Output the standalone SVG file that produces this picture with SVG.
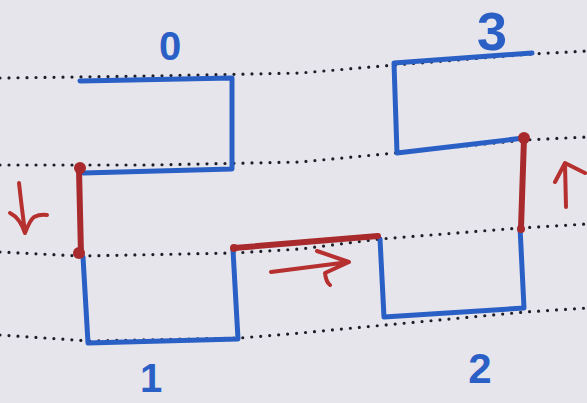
<svg xmlns="http://www.w3.org/2000/svg" width="587" height="403" viewBox="0 0 587 403">
<style>
.bg{fill:#e7e5ec}
.dots{fill:none;stroke:#1e1e28;stroke-width:3.2;stroke-linecap:round;stroke-dasharray:0 9}
.box{fill:none;stroke:#2a60c6;stroke-width:5;stroke-linecap:round;stroke-linejoin:round}
.lbl{fill:#2a60c6;font-family:"Liberation Sans",Arial,sans-serif;font-weight:bold;text-anchor:middle}
.red{fill:none;stroke:#a82a2c;stroke-width:6;stroke-linecap:round;stroke-linejoin:round}
.arw{fill:none;stroke:#b5302f;stroke-width:4;stroke-linecap:round;stroke-linejoin:round}
.blob{fill:#a82a2c}
</style>
<rect class="bg" x="0" y="0" width="587" height="403"/>
<g id="guides">
<path class="dots" d="M0,78 L150,76 L300,73 L395,65 L532,54 L587,51"/>
<path class="dots" d="M0,165 L150,165 L300,162 L395,153 L525,140 L587,137"/>
<path class="dots" d="M0,252 L80,256 L235,253 L300,249 L380,239 L520,228 L587,224"/>
<path class="dots" d="M0,335 L90,341 L240,338 L300,333 L385,325 L525,312 L587,308"/>
</g>
<g id="node0">
<polyline class="box" points="80,81 232,78 232,169 83,173"/>
<text class="lbl" x="170" y="60" font-size="40">0</text>
</g>
<g id="node1">
<polyline class="box" points="83,257 88,343 238,339 233,250"/>
<text class="lbl" x="151" y="392" font-size="40">1</text>
</g>
<g id="node2">
<polyline class="box" points="380,239 384,317 524,308 520,227"/>
<text class="lbl" x="480" y="383" font-size="42">2</text>
</g>
<g id="node3">
<polyline class="box" points="524,138 397,153 394,63 532,53"/>
<text class="lbl" x="492" y="50" font-size="54">3</text>
</g>
<g id="connectors">
<line class="red" x1="79" y1="169" x2="81" y2="255"/>
<circle class="blob" cx="80" cy="168" r="6"/>
<circle class="blob" cx="79" cy="253" r="6"/>
<path class="arw" d="M19,183 Q22,210 25,232 M10,213 Q20,218 25,233 Q30,220 34,217 Q40,214 47,215"/>
<line class="red" x1="234" y1="248" x2="378" y2="236"/>
<circle class="blob" cx="234" cy="248" r="4"/>
<path class="arw" d="M271,272 L349,262 M317,251 L349,262 L325,273 Q326,282 330,285"/>
<line class="red" x1="521" y1="228" x2="524" y2="138"/>
<circle class="blob" cx="524" cy="138" r="6"/>
<circle class="blob" cx="521" cy="229" r="4"/>
<path class="arw" d="M566,207 L565,164 M555,182 L565,163 L585,173"/>
</g>
</svg>
